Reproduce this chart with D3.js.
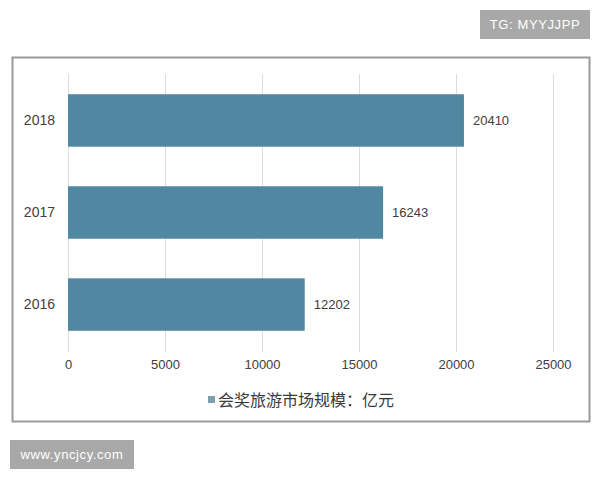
<!DOCTYPE html>
<html>
<head>
<meta charset="utf-8">
<script src="https://cdn.jsdelivr.net/npm/d3@7"></script>
<style>
  html, body { margin: 0; padding: 0; background: #fff; }
  svg { display: block; }
</style>
</head>
<body>
<svg id="chart" width="600" height="480"></svg>
<script>
const categories = ["2018", "2017", "2016"];
const values = [20410, 16243, 12202];
const tickValues = [0, 5000, 10000, 15000, 20000, 25000];
const legendLabel = "会奖旅游市场规模：亿元";
const badgeTop = "TG: MYYJJPP";
const badgeBottom = "www.yncjcy.com";

const svg = d3.select("#chart");
const barColor = "#5087a1";
const textColor = "#404040";
const numFont = "'Liberation Sans', Arial, sans-serif";
const cjkFont = "'Noto Sans CJK SC', sans-serif";

// outer frame
svg.append("rect")
  .attr("x", 12.5).attr("y", 57.5)
  .attr("width", 577).attr("height", 364)
  .attr("fill", "#fff")
  .attr("stroke", "#9a9a9a").attr("stroke-width", 2);

const x = d3.scaleLinear().domain([0, 25000]).range([68, 553]);
const y = d3.scaleBand().domain(categories).range([74, 351]).paddingInner(0.43).paddingOuter(0.22);

// gridlines
svg.append("g").selectAll("line").data(tickValues).join("line")
  .attr("x1", d => Math.round(x(d)) + 0.5).attr("x2", d => Math.round(x(d)) + 0.5)
  .attr("y1", 74).attr("y2", 352)
  .attr("stroke", "#dcdcdc").attr("stroke-width", 1);

// x axis tick labels
const xAxis = d3.axisBottom(x).tickValues(tickValues).tickSize(0).tickPadding(0).tickFormat(d3.format("d"));
const gx = svg.append("g").attr("transform", "translate(0,360)").call(xAxis);
gx.select(".domain").remove();
gx.selectAll("text")
  .attr("dy", "0.71em")
  .attr("fill", textColor)
  .style("font-family", numFont).style("font-size", "13px");

// y axis labels
const yAxis = d3.axisLeft(y).tickSize(0).tickPadding(13);
const gy = svg.append("g").attr("transform", "translate(68,0)").call(yAxis);
gy.select(".domain").remove();
gy.selectAll("text")
  .attr("fill", textColor)
  .style("font-family", numFont).style("font-size", "14px");

// bars
svg.append("g").selectAll("rect").data(values).join("rect")
  .attr("x", x(0))
  .attr("y", (d, i) => y(categories[i]))
  .attr("width", d => x(d) - x(0))
  .attr("height", y.bandwidth())
  .attr("fill", barColor);

// value labels
svg.append("g").selectAll("text").data(values).join("text")
  .attr("x", d => x(d) + 9)
  .attr("y", (d, i) => y(categories[i]) + y.bandwidth() / 2)
  .attr("dy", "0.35em")
  .attr("fill", textColor)
  .style("font-family", numFont).style("font-size", "13px")
  .text(d => d);

// legend
svg.append("rect").attr("x", 208).attr("y", 396).attr("width", 7).attr("height", 7).attr("fill", "#7f9fb0");
svg.append("text")
  .attr("x", 218).attr("y", 400).attr("dy", "0.35em")
  .attr("fill", "#3a3a3a")
  .style("font-family", cjkFont).style("font-size", "16px")
  .text(legendLabel);

// badges
function badge(x0, y0, w, h, label) {
  svg.append("rect").attr("x", x0).attr("y", y0).attr("width", w).attr("height", h).attr("fill", "#a8a8a8");
  svg.append("text")
    .attr("x", x0 + w / 2).attr("y", y0 + h / 2).attr("dy", "0.36em")
    .attr("text-anchor", "middle").attr("fill", "#fff")
    .style("font-family", "'Liberation Sans', Arial, sans-serif").style("font-size", "13px")
    .style("letter-spacing", "0.6px")
    .text(label);
}
badge(480, 10, 110, 29, badgeTop);
badge(10, 440, 124, 29, badgeBottom);
</script>
</body>
</html>
